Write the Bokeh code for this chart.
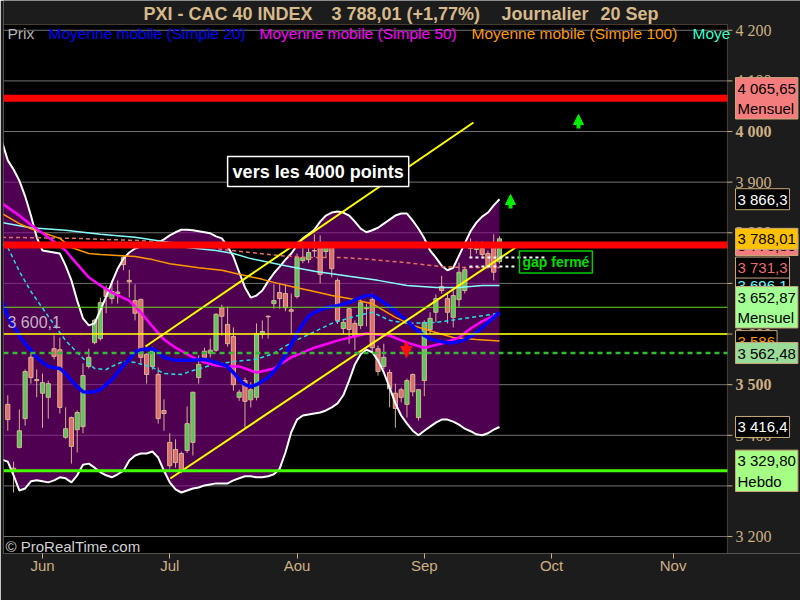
import numpy as np
from bokeh.plotting import figure
from bokeh.models import Range1d, FixedTicker, Label, Arrow, NormalHead, BoxAnnotation
from bokeh.embed import file_html
from bokeh.resources import INLINE

FONT = "Liberation Sans"
TAN = "#CDB084"

# x axis: trading-day index, 0 = 1 June
month_ticks = [0, 22, 44, 66, 88, 109]
month_labels = ["Jun", "Jul", "Aou", "Sep", "Oct", "Nov"]

price_ticks = [3200, 3300, 3400, 3500, 3600, 3700, 3800, 3900, 4000, 4100, 4200]
price_tick_labels = ["3 200", "3 300", "3 400", "3 500", "3 600", "3 700",
                     "3 800", "3 900", "4 000", "4 100", "4 200"]
bold_ticks = [3500, 4000]

# chart area in data units (left/right in days, bottom/top in points)
X_LEFT, X_RIGHT, X_CANVAS_END = -6.74, 118.4, 131.03
Y_BOTTOM, Y_TOP, Y_CANVAS_TOP = 3166.5, 4211.4, 4258.8
TICK_LEN = 0.86

# daily candles
days = list(range(-6, 80))
open_ = [3461, 3335, 3376, 3433, 3554, 3510, 3483, 3475, 3571, 3569,
         3396, 3435, 3411, 3417, 3536, 3583, 3591, 3690, 3670, 3680,
         3751, 3706, 3666, 3668, 3560, 3536, 3520, 3449, 3386, 3372,
         3364, 3370, 3386, 3514, 3566, 3562, 3568, 3652, 3619, 3595,
         3475, 3508, 3470, 3475, 3599, 3634, 3660, 3682, 3680, 3648,
         3674, 3745, 3747, 3764, 3781, 3763, 3773, 3706, 3611, 3650,
         3621, 3617, 3650, 3668, 3571, 3536, 3524, 3483, 3490, 3461,
         3520, 3435, 3508, 3609, 3643, 3694, 3670, 3633, 3668, 3686,
         3769, 3767, 3769, 3759, 3777, 3743]
high = [3479, 3348, 3451, 3530, 3562, 3530, 3522, 3508, 3597, 3593,
        3455, 3437, 3449, 3542, 3571, 3630, 3672, 3696, 3706, 3706,
        3755, 3727, 3698, 3670, 3562, 3575, 3534, 3471, 3404, 3392,
        3368, 3457, 3486, 3558, 3573, 3591, 3641, 3658, 3654, 3613,
        3490, 3514, 3505, 3621, 3627, 3637, 3698, 3700, 3698, 3680,
        3759, 3771, 3779, 3797, 3795, 3779, 3779, 3710, 3629, 3652,
        3627, 3672, 3660, 3680, 3577, 3581, 3530, 3502, 3494, 3512,
        3522, 3491, 3627, 3643, 3678, 3715, 3680, 3686, 3741, 3733,
        3789, 3783, 3783, 3765, 3797, 3793]
low = [3409, 3287, 3374, 3419, 3502, 3475, 3415, 3433, 3550, 3443,
       3393, 3344, 3366, 3404, 3532, 3580, 3587, 3641, 3660, 3660,
       3726, 3672, 3627, 3542, 3502, 3530, 3423, 3409, 3334, 3336,
       3325, 3365, 3360, 3502, 3548, 3554, 3565, 3597, 3575, 3488,
       3468, 3415, 3455, 3469, 3591, 3591, 3650, 3650, 3645, 3601,
       3670, 3740, 3740, 3752, 3700, 3750, 3712, 3620, 3600, 3581,
       3568, 3610, 3615, 3565, 3518, 3530, 3455, 3415, 3465, 3435,
       3477, 3429, 3477, 3600, 3623, 3680, 3621, 3613, 3654, 3680,
       3751, 3759, 3749, 3729, 3706, 3739]
close = [3431, 3330, 3409, 3526, 3514, 3508, 3504, 3502, 3556, 3455,
         3413, 3378, 3445, 3518, 3554, 3627, 3662, 3674, 3684, 3683,
         3737, 3703, 3641, 3554, 3520, 3569, 3433, 3443, 3340, 3346,
         3330, 3423, 3485, 3540, 3554, 3568, 3639, 3635, 3581, 3500,
         3485, 3467, 3490, 3601, 3605, 3635, 3666, 3670, 3652, 3645,
         3751, 3751, 3761, 3765, 3718, 3771, 3729, 3627, 3623, 3609,
         3597, 3662, 3652, 3573, 3526, 3554, 3492, 3453, 3475, 3508,
         3486, 3490, 3623, 3631, 3670, 3686, 3643, 3676, 3722, 3727,
         3770, 3771, 3757, 3735, 3722.1, 3788.01]

# Bollinger bands
band_days = list(range(-7, 80))
band_upper = [3980, 3943, 3925, 3903, 3872, 3834, 3791, 3765, 3763, 3761,
              3759, 3735, 3706, 3666, 3631, 3617, 3621, 3647, 3674, 3702,
              3729, 3749, 3761, 3769, 3773, 3775, 3777, 3781, 3787, 3795,
              3801, 3806, 3806, 3805, 3803, 3801, 3799, 3793, 3789, 3773,
              3753, 3722, 3692, 3672, 3676, 3686, 3704, 3720, 3733, 3747,
              3759, 3775, 3789, 3797, 3806, 3822, 3834, 3840, 3842, 3840,
              3834, 3822, 3808, 3801, 3805, 3810, 3818, 3826, 3834, 3838,
              3838, 3824, 3808, 3789, 3765, 3751, 3735, 3726, 3731, 3755,
              3779, 3803, 3820, 3832, 3840, 3854, 3866.3]
band_lower = [3352, 3348, 3321, 3291, 3295, 3309, 3311, 3309, 3307, 3311,
              3317, 3315, 3307, 3321, 3342, 3344, 3336, 3327, 3321, 3317,
              3323, 3330, 3350, 3360, 3364, 3364, 3368, 3356, 3330, 3307,
              3293, 3287, 3291, 3295, 3297, 3301, 3303, 3305, 3305, 3305,
              3311, 3315, 3319, 3319, 3317, 3317, 3319, 3323, 3334, 3366,
              3406, 3431, 3439, 3441, 3443, 3445, 3449, 3455, 3463, 3479,
              3508, 3540, 3560, 3569, 3564, 3548, 3524, 3494, 3463, 3439,
              3423, 3409, 3400, 3409, 3417, 3425, 3431, 3431, 3427, 3421,
              3413, 3408, 3402, 3400, 3404, 3411, 3416.4]

# moving averages
ma20_days = [-7, -6, -5, -4, -3, -2, -1, 0, 1, 3, 4, 5, 6, 7, 8, 9, 10, 11, 12, 13,
             14, 15, 16, 17, 19, 20, 21, 23, 26, 28, 30, 32, 33, 34, 35, 36, 37, 39,
             40, 41, 42, 43, 44, 45, 46, 47, 49, 51, 53, 55, 56, 57, 58, 59, 60, 61,
             62, 63, 64, 65, 66, 67, 68, 69, 70, 71, 72, 73, 74, 75, 76, 77, 78, 79]
ma20 = [3666, 3635, 3617, 3597, 3581, 3568, 3554, 3544, 3536, 3532, 3522, 3508,
        3496, 3486, 3485, 3486, 3490, 3500, 3510, 3524, 3538, 3550, 3564, 3569,
        3571, 3564, 3554, 3548, 3548, 3550, 3544, 3536, 3524, 3510, 3500, 3496,
        3500, 3514, 3526, 3540, 3558, 3579, 3601, 3619, 3635, 3643, 3652, 3656,
        3662, 3672, 3676, 3676, 3670, 3662, 3654, 3645, 3635, 3627, 3615, 3605,
        3597, 3591, 3587, 3585, 3583, 3583, 3585, 3589, 3595, 3603, 3613, 3623,
        3633, 3643]
ma50_days = [-7, -4, -2, 1, 4, 5, 8, 10, 12, 15, 17, 19, 21, 23, 26, 28, 30, 32, 34,
             36, 37, 40, 43, 47, 51, 56, 60, 63, 66, 69, 72, 74, 76, 79]
ma50 = [3858, 3834, 3816, 3791, 3765, 3751, 3712, 3696, 3682, 3666, 3643, 3615,
        3589, 3573, 3554, 3544, 3538, 3536, 3536, 3528, 3524, 3532, 3554, 3573,
        3587, 3601, 3597, 3583, 3573, 3581, 3593, 3611, 3625, 3641]
ma100_days = [-7, -4, -2, 3, 5, 8, 10, 13, 16, 19, 22, 27, 31, 34, 38, 40, 43, 47,
              50, 53, 57, 61, 64, 68, 71, 75, 79]
ma100 = [3838, 3818, 3808, 3789, 3771, 3759, 3757, 3755, 3753, 3747, 3739, 3731,
         3726, 3718, 3708, 3702, 3694, 3684, 3676, 3670, 3660, 3633, 3617, 3603,
         3593, 3589, 3586]
long_ma_days = [-7, -4, -2, 4, 10, 16, 22, 25, 30, 33, 36, 42, 47, 53, 58, 63, 68,
                72, 76, 79]
long_ma = [3820, 3814, 3810, 3805, 3797, 3791, 3781, 3771, 3765, 3759, 3749, 3735,
           3724, 3714, 3706, 3696, 3692, 3692, 3696, 3696.1]
ema_days = [-7, -6, -4, -2, 1, 4, 7, 9, 11, 12, 14, 16, 19, 21, 24, 26, 29, 32, 35,
            37, 40, 43, 46, 50, 54, 57, 60, 63, 68, 73, 79]
ema = [3779, 3771, 3724, 3684, 3635, 3587, 3552, 3532, 3530, 3536, 3546, 3544,
       3534, 3522, 3520, 3528, 3538, 3544, 3548, 3550, 3562, 3583, 3599, 3621,
       3635, 3643, 3627, 3621, 3623, 3631, 3641]
slow_days = [-7, 6, 10, 16, 22, 27, 31, 36, 41, 46, 52, 57, 63, 69, 73, 79]
slow_ma = [3791, 3789, 3787, 3785, 3781, 3779, 3767, 3761, 3755, 3751, 3751, 3747,
           3741, 3733, 3731.3, 3731.3]

# support / resistance levels: value, colour, width, dash
levels = [
    (3562.48, "#33BB33", 2.5, "5 4"),
    (3600.1, "#FFFF00", 1.5, "solid"),
    (3652.87, "#66DD22", 1, "solid"),
    (3329.80, "#44FF00", 3, "solid"),
    (3775.8, "#FF0000", 7, "solid"),
    (4065.65, "#FF0000", 7, "solid"),
]
level_pivot = 3600.1

# trend channel
chan_up_x, chan_up_y = [17.8, 74.5], [3575.3, 4017.8]
chan_lo_x, chan_lo_y = [22.1, 81.8], [3314.6, 3770.9]

# gap lines
gap_hi_x, gap_hi_y = [73.8, 86.8], [3751, 3751]
gap_lo_x, gap_lo_y = [73.8, 81.8], [3733.4, 3733.4]

# signal arrows (day, start, end)
up_arrows = [(92.65, 4006.0, 4033.6), (80.9, 3847.9, 3875.6)]
down_arrows = [(62.9, 3583.3, 3553.6)]

# boxes on the price scale: text, price, background, text colour
level_boxes = [
    ("3 696,1", 3696.1, "black", "#66FFFF"),
    ("3 586", 3586, "black", "#FF9900"),
    ("3 775,80", 3775.8, "#F47C7C", "black"),
    ("4 065,65\nMensuel", 4065.65, "#F47C7C", "black"),
    ("3 866,3", 3866.3, "black", "white"),
    ("3 731,3", 3731.3, "black", "#F06A6A"),
    ("3 652,87\nMensuel", 3652.87, "#A4FF94", "black"),
    ("3 562,48", 3562.48, "#9ADB9A", "black"),
    ("3 416,4", 3416.4, "black", "white"),
    ("3 329,80\nHebdo", 3329.80, "#A4FF84", "black"),
    ("3 788,01", 3788.01, "#FFC000", "black"),
]

p = figure(width=800, height=600,
           x_range=Range1d(X_LEFT, X_CANVAS_END), y_range=Range1d(Y_BOTTOM, Y_CANVAS_TOP),
           output_backend="svg", toolbar_location=None,
           min_border_left=3, min_border_right=0, min_border_top=0,
           min_border_bottom=47, background_fill_color="#1C1C1C",
           border_fill_color="#1C1C1C", outline_line_color=None)
p.yaxis.visible = False
p.xgrid.visible = False
p.ygrid.visible = False

ax = p.xaxis
ax.ticker = FixedTicker(ticks=month_ticks)
ax.major_label_overrides = dict(zip(month_ticks, month_labels))
ax.axis_line_color = None
ax.major_tick_line_color = TAN
ax.minor_tick_line_color = None
ax.major_tick_in = 0
ax.major_tick_out = 5
ax.major_label_text_color = TAN
ax.major_label_text_font = FONT
ax.major_label_text_font_size = "15px"
ax.major_label_standoff = -2

# chart panel
p.add_layout(BoxAnnotation(left=X_LEFT, right=X_RIGHT, bottom=Y_BOTTOM, top=Y_TOP,
                           fill_color="black", fill_alpha=1, line_color=None,
                           level="underlay"))

# horizontal grid
p.segment(x0=X_LEFT, x1=X_RIGHT, y0=price_ticks, y1=price_ticks,
          line_color="#727272", line_width=1)

# Bollinger envelope
p.varea(x=band_days, y1=band_lower, y2=band_upper, fill_color="#8A008A", fill_alpha=0.58)

# candles
o = np.array(open_, dtype=float)
c = np.array(close, dtype=float)
body_colors = ["#58C858" if u else "#E06C6C" for u in (c >= o)]
p.segment(x0=days, y0=low, x1=days, y1=high, line_color="#CDB38F", line_width=1)
p.vbar(x=days, width=0.72, top=np.maximum(o, c), bottom=np.minimum(o, c),
       fill_color=body_colors, line_color="#D4B494", line_width=1)

# indicators
p.line(band_days, band_upper, line_color="white", line_width=2)
p.line(band_days, band_lower, line_color="white", line_width=2)
p.line(slow_days, slow_ma, line_color="#E87060", line_width=1.5, line_dash="4 3")
p.line(ema_days, ema, line_color="#22E0E0", line_width=1.5, line_dash="4 3")
p.line(long_ma_days, long_ma, line_color="#88FFFF", line_width=1.5)
p.line(ma100_days, ma100, line_color="#FF9900", line_width=1.5)
p.line(ma50_days, ma50, line_color="#FF00FF", line_width=2.5)
p.line(ma20_days, ma20, line_color="#0000FF", line_width=3.5)

# channel and gap
p.line(chan_up_x, chan_up_y, line_color="#FFFF00", line_width=2)
p.line(chan_lo_x, chan_lo_y, line_color="#FFFF00", line_width=2)
p.line(gap_hi_x, gap_hi_y, line_color="white", line_width=2, line_dash="3 3")
p.line(gap_lo_x, gap_lo_y, line_color="white", line_width=2, line_dash="3 3")

# horizontal levels
for lv, col, lw, dash in levels:
    p.segment(x0=X_LEFT, x1=X_RIGHT, y0=lv, y1=lv, line_color=col, line_width=lw,
              line_dash=dash)

# price scale: ticks and labels
p.segment(x0=X_RIGHT, x1=X_RIGHT + TICK_LEN, y0=price_ticks, y1=price_ticks,
          line_color=TAN, line_width=1)
plain = [(t, l) for t, l in zip(price_ticks, price_tick_labels) if t not in bold_ticks]
strong = [(t, l) for t, l in zip(price_ticks, price_tick_labels) if t in bold_ticks]
p.text(x=X_RIGHT, y=[t for t, _ in plain], text=[l for _, l in plain], x_offset=8,
       text_font=FONT, text_font_size="16px", text_color=TAN, text_baseline="middle")
p.text(x=X_RIGHT, y=[t for t, _ in strong], text=[l for _, l in strong], x_offset=8,
       text_font=FONT, text_font_size="16px", text_font_style="bold", text_color=TAN,
       text_baseline="middle")

# frame outline
p.add_layout(BoxAnnotation(left=X_LEFT, right=X_RIGHT, bottom=Y_BOTTOM, top=Y_TOP,
                           fill_color=None, line_color=TAN, line_width=1,
                           level="overlay"))

for d, y0, y1 in up_arrows:
    p.add_layout(Arrow(x_start=d, y_start=y0, x_end=d, y_end=y1, line_color="#00EE00",
                       line_width=4, end=NormalHead(size=10, fill_color="#00EE00",
                                                    line_color="#00EE00")))
for d, y0, y1 in down_arrows:
    p.add_layout(Arrow(x_start=d, y_start=y0, x_end=d, y_end=y1, line_color="#FF1010",
                       line_width=4, end=NormalHead(size=11, fill_color="#FF1010",
                                                    line_color="#FF1010")))

# annotations in the chart
p.add_layout(Label(x=32, y=3921, text="vers les 4000 points", text_font=FONT,
                   text_font_size="18px", text_font_style="bold", text_color="white",
                   text_baseline="middle", background_fill_color="black",
                   border_line_color="white", border_line_width=1.5, padding=5))
p.add_layout(Label(x=82.45, y=3742.3, text="gap fermé", text_font=FONT,
                   text_font_size="14px", text_font_style="bold", text_color="#00DD00",
                   text_baseline="middle", border_line_color="#00CC00",
                   border_line_width=1.5, padding=3))
p.add_layout(Label(x=7, x_units="canvas", y=level_pivot, y_offset=3, text="3 600,1",
                   text_font=FONT, text_font_size="16px", text_color="#C4B0C4",
                   text_baseline="bottom"))

# legend row
legend_items = [("Prix", "#B4B4B4", 7), ("Moyenne mobile (Simple 20)", "#0000FF", 48),
                ("Moyenne mobile (Simple 50)", "#FF00FF", 259),
                ("Moyenne mobile (Simple 100)", "#FF9900", 471), ("Moye", "#33FFCC", 692)]
for txt, col, lx in legend_items:
    p.add_layout(Label(x=lx, y=33, x_units="canvas", y_units="canvas", text=txt,
                       text_font=FONT, text_font_size="15.5px", text_color=col,
                       text_baseline="middle"))

p.add_layout(Label(x=5, y=546, x_units="canvas", y_units="canvas", text="© ProRealTime.com",
                   text_font=FONT, text_font_size="15px", text_color="#D0D0D0",
                   text_baseline="middle"))

# price-scale boxes
for txt, price, bg, fg in level_boxes:
    p.add_layout(Label(x=735, x_units="canvas", y=price, text=txt, text_font=FONT,
                       text_font_size="15px", text_color=fg, text_baseline="middle",
                       background_fill_color=bg, border_line_color="#C8A878",
                       border_line_width=1, padding=2))

# title
title_parts = [("PXI - CAC 40 INDEX", 143), ("3 788,01 (+1,77%)", 331),
               ("Journalier", 501), ("20 Sep", 600)]
for txt, tx in title_parts:
    p.add_layout(Label(x=tx, y=13, x_units="canvas", y_units="canvas", text=txt,
                       text_font=FONT, text_font_size="18px", text_font_style="bold",
                       text_color="#D6B98A", text_baseline="middle"))

open("out.html", "w").write(file_html(p, INLINE))
